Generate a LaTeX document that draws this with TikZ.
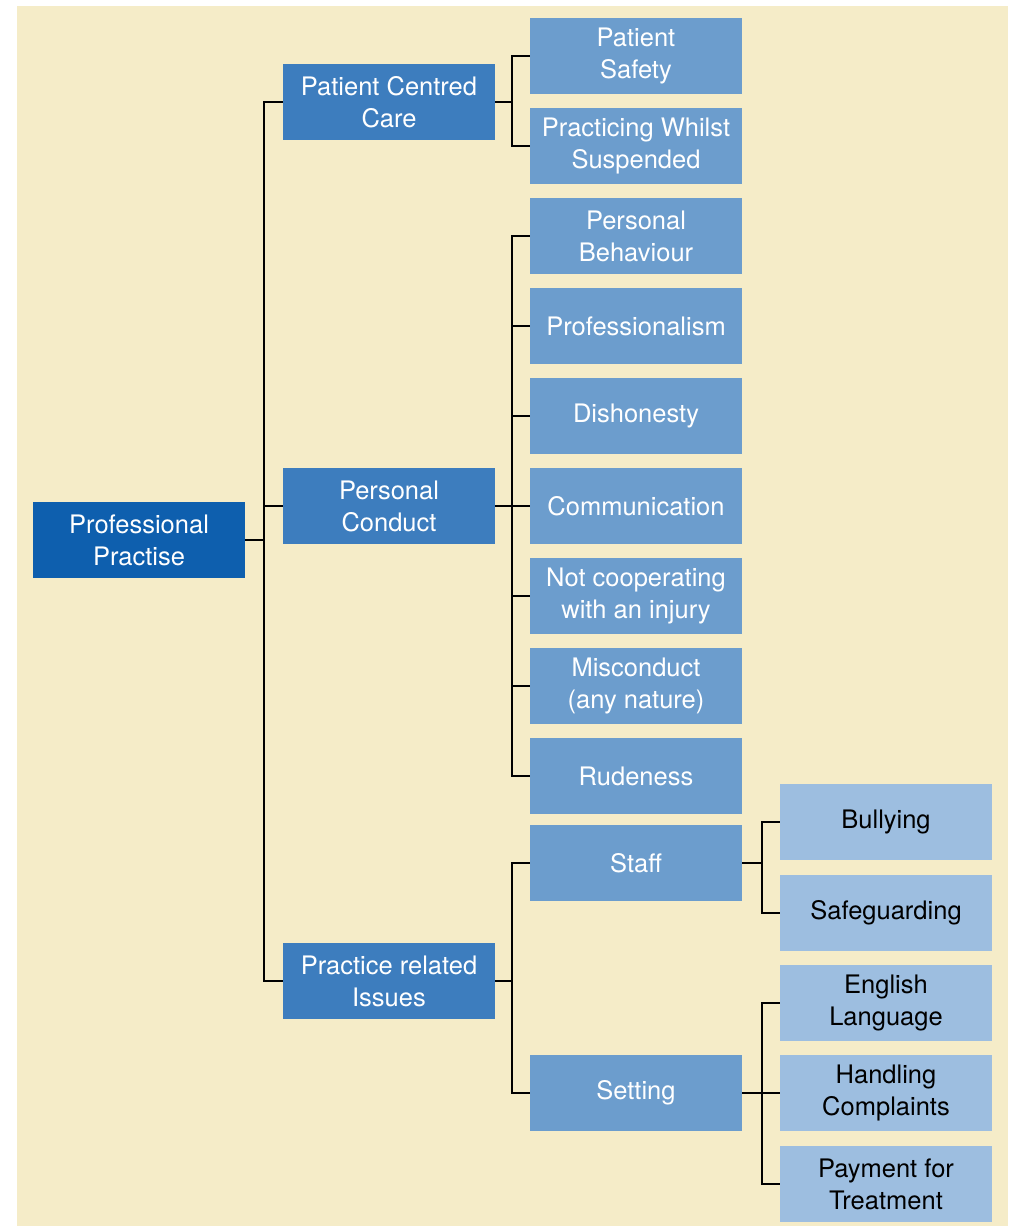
\documentclass[tikz,border=0pt]{standalone}
\usepackage{fontspec}
\setmainfont{TeX Gyre Heros}
\definecolor{cream}{HTML}{F5ECC8}
\definecolor{rootblue}{HTML}{0E5FAE}
\definecolor{midblue}{HTML}{3D7DBE}
\definecolor{softblue}{HTML}{6C9DCD}
\definecolor{paleblue}{HTML}{9DBEE0}
\begin{document}
\begin{tikzpicture}[x=1pt,y=-1pt,
  box/.style={minimum width=212pt,minimum height=76pt,inner sep=0pt,align=center,
    font=\fontsize{25.5}{32}\selectfont},
  rootbox/.style={box,fill=rootblue,text=white},
  topicbox/.style={box,fill=midblue,text=white},
  itembox/.style={box,fill=softblue,text=white},
  leafbox/.style={box,fill=paleblue,text=black},
  link/.style={draw=black,line width=2pt}]
\useasboundingbox (0,0) rectangle (1013,1227);
\fill[cream] (17,6) rectangle (1008,1226);

% root
\node[rootbox] (root) at (139,540) {Professional\\Practise};

% first level
\node[topicbox] (pcc) at (389,102) {Patient Centred\\Care};
\node[topicbox] (pc)  at (389,506) {Personal\\Conduct};
\node[topicbox] (pri) at (389,981) {Practice related\\Issues};

% second level
\node[itembox] (safety)  at (636,56)   {Patient\\Safety};
\node[itembox] (suspend) at (636,146)  {Practicing Whilst\\Suspended};
\node[itembox] (behav)   at (636,236)  {Personal\\Behaviour};
\node[itembox] (prof)    at (636,326)  {Professionalism};
\node[itembox] (dishon)  at (636,416)  {Dishonesty};
\node[itembox] (comm)    at (636,506)  {Communication};
\node[itembox] (coop)    at (636,596)  {Not cooperating\\with an injury};
\node[itembox] (miscon)  at (636,686)  {Misconduct\\(any nature)};
\node[itembox] (rude)    at (636,776)  {Rudeness};
\node[itembox] (staff)   at (636,863)  {Staff};
\node[itembox] (setting) at (636,1093) {Setting};

% third level
\node[leafbox] (bully)   at (886,822)  {Bullying};
\node[leafbox] (safeg)   at (886,913)  {Safeguarding};
\node[leafbox] (english) at (886,1003) {English\\Language};
\node[leafbox] (handle)  at (886,1093) {Handling\\Complaints};
\node[leafbox] (payment) at (886,1184) {Payment for\\Treatment};

% connectors: elbow lines through a vertical trunk
\foreach \t in {pcc,pc,pri}
  \draw[link] (root.east) -- ++(19,0) |- (\t.west);
\foreach \t in {safety,suspend}
  \draw[link] (pcc.east) -- ++(17,0) |- (\t.west);
\foreach \t in {behav,prof,dishon,comm,coop,miscon,rude}
  \draw[link] (pc.east) -- ++(17,0) |- (\t.west);
\foreach \t in {staff,setting}
  \draw[link] (pri.east) -- ++(17,0) |- (\t.west);
\foreach \t in {bully,safeg}
  \draw[link] (staff.east) -- ++(20,0) |- (\t.west);
\foreach \t in {english,handle,payment}
  \draw[link] (setting.east) -- ++(20,0) |- (\t.west);
\end{tikzpicture}
\end{document}
